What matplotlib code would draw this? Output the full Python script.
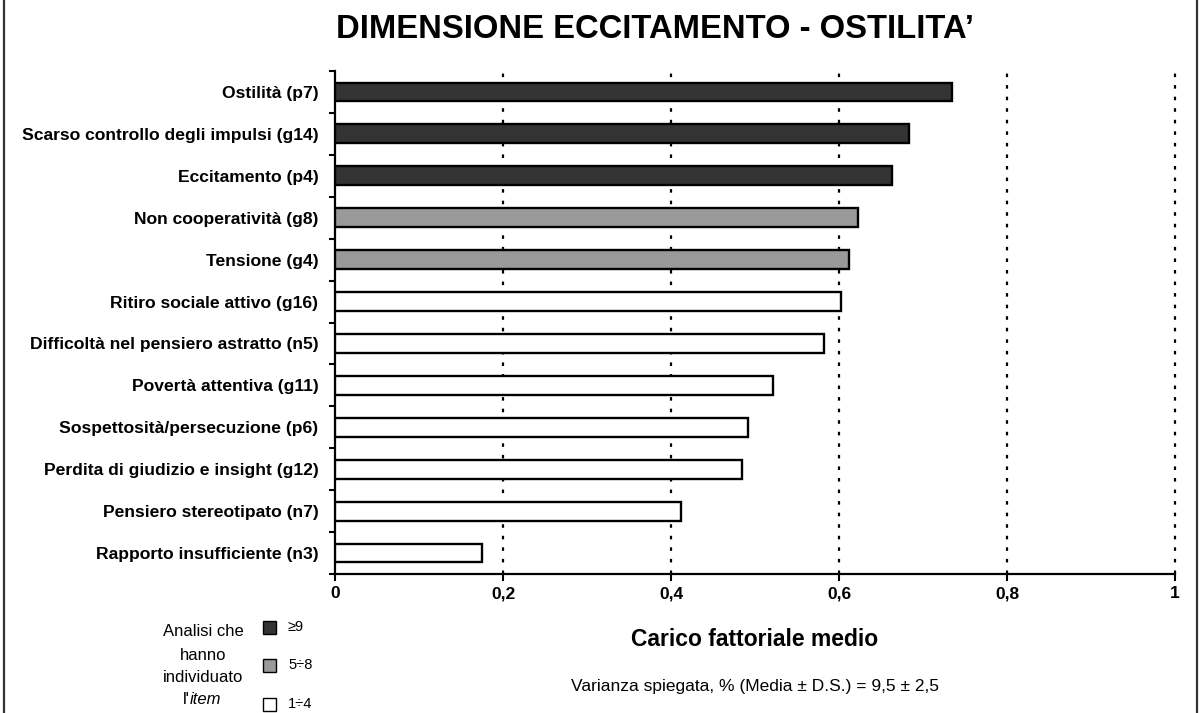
import matplotlib
matplotlib.use("Agg")
import matplotlib.pyplot as plt
from matplotlib.patches import Rectangle
from matplotlib.lines import Line2D

plt.rcParams['font.family'] = ['Liberation Sans', 'DejaVu Sans']

categories = [
    "Ostilità (p7)",
    "Scarso controllo degli impulsi (g14)",
    "Eccitamento (p4)",
    "Non cooperatività (g8)",
    "Tensione (g4)",
    "Ritiro sociale attivo (g16)",
    "Difficoltà nel pensiero astratto (n5)",
    "Povertà attentiva (g11)",
    "Sospettosità/persecuzione (p6)",
    "Perdita di giudizio e insight (g12)",
    "Pensiero stereotipato (n7)",
    "Rapporto insufficiente (n3)",
]
values = [0.735, 0.683, 0.663, 0.623, 0.612, 0.602, 0.582, 0.522, 0.492, 0.484, 0.412, 0.175]
groups = ["≥9", "≥9", "≥9", "5÷8", "5÷8", "1÷4", "1÷4", "1÷4", "1÷4", "1÷4", "1÷4", "1÷4"]
group_labels = ["≥9", "5÷8", "1÷4"]
group_colors = {"≥9": "#333333", "5÷8": "#999999", "1÷4": "#ffffff"}
xticks = [0, 0.2, 0.4, 0.6, 0.8, 1.0]
xticklabels = ["0", "0,2", "0,4", "0,6", "0,8", "1"]

W, H = 1200, 713
fig = plt.figure(figsize=(W / 100, H / 100), dpi=100)

def fx(px):
    return px / W

def fy(py):
    return 1 - py / H

ax = fig.add_axes([fx(335), fy(574), fx(1175) - fx(335), fy(71) - fy(574)])

n = len(categories)
ypos = [n - 1 - i for i in range(n)]
ax.barh(ypos, values, height=0.45,
        color=[group_colors[g] for g in groups],
        edgecolor="black", linewidth=1.7, zorder=3)

ax.set_xlim(0, 1)
ax.set_ylim(-0.5, n - 0.5)

for xv in xticks[1:]:
    ax.axvline(xv, color="black", linewidth=1.6, linestyle=(0, (1.6, 3.6)),
               zorder=1, clip_on=False)

ax.set_xticks(xticks)
ax.set_xticklabels(xticklabels, fontsize=12.5, fontweight="bold")
ax.tick_params(axis="x", direction="out", length=5, width=1.5, pad=4)

ax.set_yticks(ypos)
ax.set_yticklabels(categories, fontsize=12.6, fontweight="bold")
ax.tick_params(axis="y", which="major", length=0, pad=12)
ax.set_yticks([k - 0.5 for k in range(n + 1)], minor=True)
ax.tick_params(axis="y", which="minor", direction="out", length=4, width=1.5)

for s in ["top", "right"]:
    ax.spines[s].set_visible(False)
for s in ["left", "bottom"]:
    ax.spines[s].set_linewidth(1.6)

fig.text(fx(655), fy(30), "DIMENSIONE ECCITAMENTO - OSTILITA’", fontsize=23.6,
         fontweight="bold", ha="center", va="center")
fig.text(fx(755), fy(640), "Carico fattoriale medio", fontsize=16.5,
         fontweight="bold", ha="center", va="center")
fig.text(fx(755), fy(687), "Varianza spiegata, % (Media ± D.S.) = 9,5 ± 2,5",
         fontsize=12.5, ha="center", va="center")

# legend block
for txt, py in [("Analisi che", 632), ("hanno", 655), ("individuato", 677)]:
    fig.text(fx(203), fy(py), txt, fontsize=12, ha="center", va="center")
fig.text(fx(190), fy(700), "l'", fontsize=12, ha="right", va="center")
fig.text(fx(190), fy(700), "item", fontsize=12, style="italic", ha="left", va="center")

sq = 13
for lab, py in zip(group_labels, [627, 665, 704]):
    fig.add_artist(Rectangle((fx(263), fy(py + sq / 2)), sq / W, sq / H,
                             transform=fig.transFigure, facecolor=group_colors[lab],
                             edgecolor="black", linewidth=1.0))
    fig.text(fx(288), fy(py), lab, fontsize=10.5, ha="left", va="center")

# figure frame (left/right)
for px in [4, 1197]:
    fig.add_artist(Line2D([fx(px), fx(px)], [0, 1], transform=fig.transFigure,
                          color="#333333", linewidth=1.6))

fig.savefig("out.png", dpi=100)
